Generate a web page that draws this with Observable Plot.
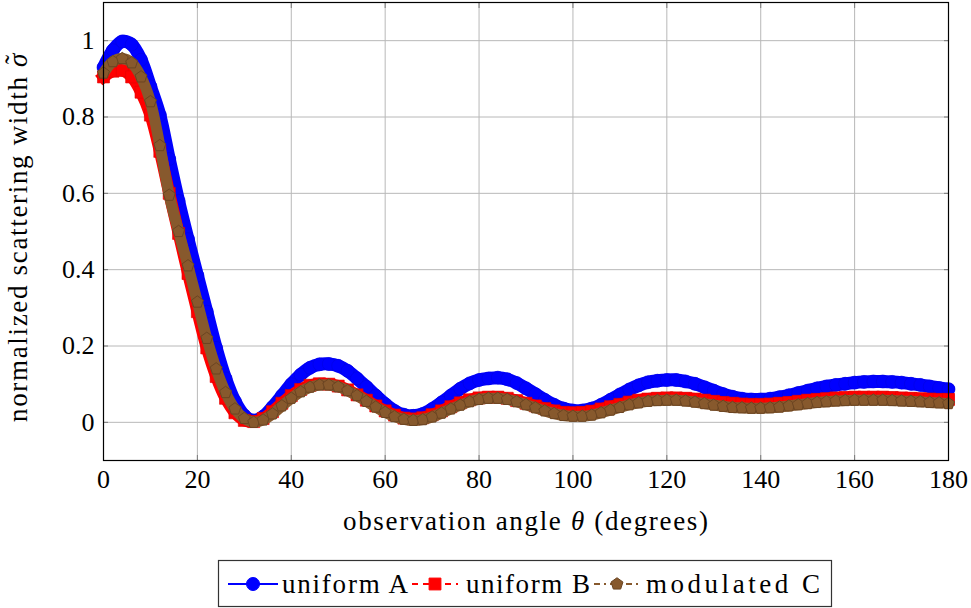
<!DOCTYPE html>
<html>
<head>
<meta charset="utf-8">
<script src="https://cdn.jsdelivr.net/npm/d3@7"></script>
<script src="https://cdn.jsdelivr.net/npm/@observablehq/plot@0.6"></script>
<style>
  body { margin: 0; background: #fff; }
</style>
</head>
<body>
<div id="chart"></div>
<script>
const theta = [0,2,4,6,8,10,12,14,16,18,20,22,24,26,28,30,32,34,36,38,40,42,44,46,48,50,52,54,56,58,60,62,64,66,68,70,72,74,76,78,80,82,84,86,88,90,92,94,96,98,100,102,104,106,108,110,112,114,116,118,120,122,124,126,128,130,132,134,136,138,140,142,144,146,148,150,152,154,156,158,160,162,164,166,168,170,172,174,176,178,180];

const uniformA = [0.93,0.975,0.998,0.99,0.95,0.88,0.805,0.69,0.58,0.48,0.385,0.29,0.195,0.115,0.055,0.018,0.005,0.015,0.04,0.07,0.1,0.125,0.143,0.152,0.153,0.148,0.135,0.115,0.093,0.07,0.048,0.03,0.02,0.017,0.022,0.035,0.052,0.07,0.088,0.102,0.111,0.115,0.117,0.113,0.103,0.089,0.074,0.059,0.046,0.036,0.031,0.031,0.036,0.046,0.059,0.073,0.086,0.097,0.105,0.109,0.111,0.111,0.107,0.101,0.092,0.083,0.074,0.067,0.062,0.06,0.06,0.062,0.066,0.071,0.077,0.083,0.089,0.094,0.098,0.101,0.104,0.106,0.107,0.107,0.106,0.104,0.101,0.098,0.094,0.09,0.087];

const uniformB = [0.905,0.92,0.922,0.905,0.865,0.805,0.71,0.6,0.495,0.39,0.29,0.195,0.12,0.063,0.025,0.005,0.002,0.01,0.028,0.05,0.07,0.086,0.097,0.101,0.1,0.095,0.085,0.072,0.058,0.043,0.03,0.019,0.011,0.009,0.012,0.02,0.03,0.041,0.051,0.059,0.064,0.066,0.066,0.063,0.057,0.05,0.043,0.036,0.03,0.026,0.025,0.026,0.029,0.035,0.041,0.047,0.053,0.058,0.061,0.063,0.064,0.064,0.063,0.061,0.058,0.055,0.052,0.05,0.048,0.047,0.047,0.048,0.05,0.052,0.055,0.058,0.06,0.062,0.064,0.065,0.066,0.066,0.066,0.066,0.065,0.064,0.063,0.062,0.061,0.06,0.06];

const modulatedC = [0.915,0.945,0.953,0.942,0.905,0.84,0.725,0.595,0.5,0.41,0.315,0.22,0.14,0.078,0.035,0.01,0.0,0.006,0.022,0.043,0.063,0.08,0.092,0.098,0.098,0.093,0.083,0.07,0.055,0.04,0.026,0.015,0.008,0.005,0.007,0.014,0.024,0.035,0.045,0.054,0.06,0.063,0.063,0.06,0.054,0.046,0.038,0.03,0.023,0.018,0.016,0.016,0.019,0.025,0.032,0.039,0.046,0.051,0.055,0.057,0.058,0.058,0.056,0.053,0.049,0.045,0.042,0.039,0.038,0.037,0.037,0.038,0.04,0.043,0.046,0.049,0.052,0.054,0.056,0.057,0.058,0.058,0.058,0.058,0.057,0.056,0.055,0.054,0.052,0.051,0.049];

const seriesNames = ["uniform A", "uniform B", "modulated C"];
const xTicks = [0,20,40,60,80,100,120,140,160,180];
const yTicks = [0,0.2,0.4,0.6,0.8,1];

const blue = "#0000ff", red = "#ff0000", brown = "#87592d", brownDark = "#6b4522";

const pentagon = {
  draw(context, size) {
    const r = Math.sqrt(size / Math.PI) * 1.12;
    for (let k = 0; k < 5; k++) {
      const a = -Math.PI / 2 + k * 2 * Math.PI / 5;
      const px = r * Math.cos(a), py = r * Math.sin(a);
      if (k === 0) context.moveTo(px, py); else context.lineTo(px, py);
    }
    context.closePath();
  }
};

const A = theta.map((t, i) => ({t, v: uniformA[i]}));
const B = theta.map((t, i) => ({t, v: uniformB[i]}));
const C = theta.map((t, i) => ({t, v: modulatedC[i]}));

const font = "'Liberation Serif', 'DejaVu Serif', serif";

const plot = Plot.plot({
  width: 971,
  height: 608,
  marginLeft: 103,
  marginRight: 23,
  marginTop: 2,
  marginBottom: 148,
  style: { fontFamily: font, fontSize: "26px", background: "#fff", color: "#000" },
  x: { domain: [0, 180] },
  y: { domain: [-0.1, 1.1] },
  marks: [
    Plot.gridX(xTicks, { stroke: "#b8b8b8", strokeOpacity: 1, strokeWidth: 1 }),
    Plot.gridY(yTicks, { stroke: "#b8b8b8", strokeOpacity: 1, strokeWidth: 1 }),
    Plot.axisX(xTicks, { anchor: "bottom", tickSize: -5, stroke: "#7a7a7a", tickPadding: 14, label: null, fontSize: 26, fontFamily: font, tickFormat: d => String(d) }),
    Plot.axisX(xTicks, { anchor: "top", tickSize: -5, stroke: "#7a7a7a", label: null, tickFormat: () => "" }),
    Plot.axisY(yTicks, { anchor: "left", tickSize: -5, stroke: "#7a7a7a", tickPadding: 14, label: null, fontSize: 26, fontFamily: font, tickFormat: d => String(+d.toFixed(1)) }),
    Plot.axisY(yTicks, { anchor: "right", tickSize: -5, stroke: "#7a7a7a", label: null, tickFormat: () => "" }),
    // uniform A
    Plot.line(A, { x: "t", y: "v", stroke: blue, strokeWidth: 13, curve: "catmull-rom", strokeLinecap: "round" }),
    Plot.dot(A, { x: "t", y: "v", r: 6.5, fill: blue, stroke: "#0000e0", strokeWidth: 0.6, symbol: "circle" }),
    // uniform B
    Plot.line(B, { x: "t", y: "v", stroke: red, strokeWidth: 12, curve: "catmull-rom", strokeLinecap: "square" }),
    Plot.dot(B, { x: "t", y: "v", r: 6.8, fill: red, stroke: "#e00000", strokeWidth: 0.6, symbol: "square" }),
    // modulated C
    Plot.line(C, { x: "t", y: "v", stroke: brown, strokeWidth: 11, curve: "catmull-rom", strokeLinecap: "round" }),
    Plot.dot(C, { x: "t", y: "v", r: 5.6, fill: brown, stroke: brownDark, strokeWidth: 1, symbol: pentagon }),
    Plot.frame({ stroke: "#000", strokeWidth: 1.2 })
  ]
});

const chart = document.getElementById("chart");
chart.appendChild(plot);

const svg = d3.select(plot);

const xl = svg.append("text")
  .attr("x", 343).attr("y", 530)
  .attr("text-anchor", "start")
  .attr("textLength", 365).attr("lengthAdjust", "spacing")
  .style("font-family", font).attr("font-size", 27)
  .attr("fill", "#000");
xl.append("tspan").text("observation angle ");
xl.append("tspan").attr("font-style", "italic").text("θ");
xl.append("tspan").text(" (degrees)");

const yl = svg.append("text")
  .attr("transform", "translate(27,422) rotate(-90)")
  .attr("text-anchor", "start")
  .attr("textLength", 370).attr("lengthAdjust", "spacing")
  .style("font-family", font).attr("font-size", 27)
  .attr("fill", "#000");
yl.append("tspan").text("normalized scattering width ");
yl.append("tspan").attr("font-style", "italic").text("σ");
yl.append("tspan").attr("dx", -12).attr("dy", -3).text("˜");

// legend inside the same SVG, below the axes
const lg = svg.append("g").attr("transform", "translate(218,560)");
lg.append("rect").attr("x", 0.5).attr("y", 0.5).attr("width", 613).attr("height", 46)
  .attr("fill", "#fff").attr("stroke", "#333").attr("stroke-width", 1.2);
const entries = [
  { name: seriesNames[0], x0: 10, x1: 60, color: blue, dash: null, sym: d3.symbolCircle, size: Math.PI * 6.5 * 6.5, tx: 64, tw: 126 },
  { name: seriesNames[1], x0: 194, x1: 240, color: red, dash: "6,5", sym: d3.symbolSquare, size: 140, tx: 248, tw: 124 },
  { name: seriesNames[2], x0: 376, x1: 422, color: brown, dash: "6,4,2,4", sym: pentagon, size: Math.PI * 5.6 * 5.6, tx: 428, tw: 174 }
];
for (const e of entries) {
  const ln = lg.append("line").attr("x1", e.x0).attr("x2", e.x1).attr("y1", 24).attr("y2", 24)
    .attr("stroke", e.color).attr("stroke-width", 2);
  if (e.dash) ln.attr("stroke-dasharray", e.dash);
  lg.append("path").attr("d", d3.symbol(e.sym, e.size)())
    .attr("transform", `translate(${(e.x0 + e.x1) / 2},24)`)
    .attr("fill", e.color).attr("stroke", e.sym === pentagon ? brownDark : e.color);
  lg.append("text").attr("x", e.tx).attr("y", 33)
    .attr("text-anchor", "start")
    .attr("textLength", e.tw).attr("lengthAdjust", "spacing")
    .style("font-family", font).attr("font-size", 27)
    .attr("fill", "#000")
    .text(e.name);
}
</script>
</body>
</html>
